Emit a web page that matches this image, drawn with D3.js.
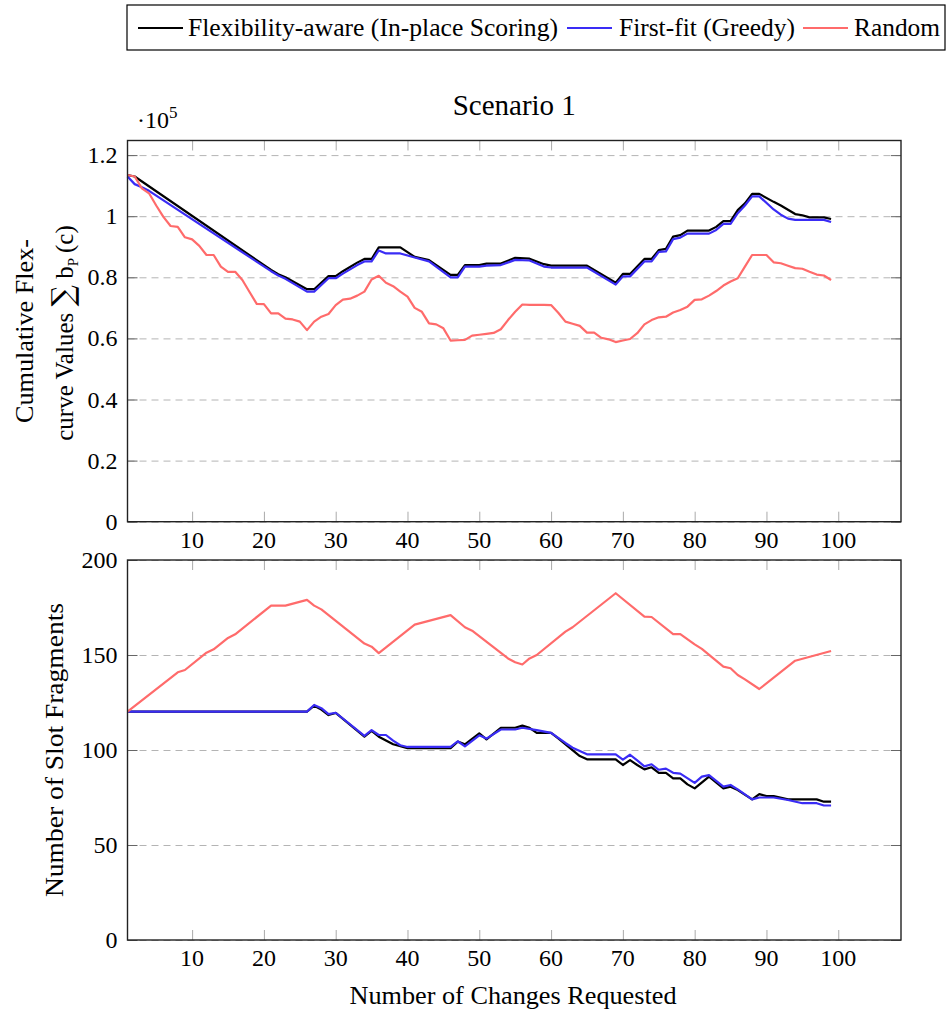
<!DOCTYPE html>
<html>
<head>
<meta charset="utf-8">
<script src="https://cdn.jsdelivr.net/npm/d3@7"></script>
<style>
  body { margin: 0; background: #fff; }
  svg text { font-family: "Liberation Serif", serif; fill: #000; }
</style>
</head>
<body>
<svg id="chart" width="947" height="1014"></svg>
<script>
// ticks
var xTicks = [10, 20, 30, 40, 50, 60, 70, 80, 90, 100];
var topTicks = [0, 0.2, 0.4, 0.6, 0.8, 1, 1.2];
var bottomTicks = [0, 50, 100, 150, 200];

// series names
var seriesNames = ['Flexibility-aware (In-place Scoring)', 'First-fit (Greedy)', 'Random'];

// top plot: cumulative flex-curve values (x 1e5), [change, value]
var flexTop = [[1,1.135],[2,1.13],[21,0.824],[22,0.81],[23,0.80],[26,0.761],[27,0.761],[29,0.804],[30,0.804],
	[31,0.82],[33,0.848],[34,0.86],[35,0.86],[36,0.898],[39,0.898],[41,0.867],[43,0.856],[46,0.808],[47,0.808],
	[48,0.84],[50,0.84],[51,0.845],[53,0.845],[55,0.864],[57,0.861],[59,0.843],[60,0.838],[65,0.838],[69,0.782],
	[70,0.811],[71,0.811],[73,0.86],[74,0.86],[75,0.889],[76,0.893],[77,0.933],[78,0.938],[79,0.953],[82,0.953],
	[83,0.965],[84,0.984],[85,0.984],[86,1.02],[87,1.042],[88,1.073],[89,1.073],[91,1.047],[92,1.035],[94,1.007],
	[95,1.003],[96,0.996],[98,0.996],[99,0.991]];
var firstFitTop = [[1,1.13],[2,1.105],[3,1.095],[4,1.083],[21,0.82],[22,0.806],[23,0.795],[26,0.753],[27,0.753],
	[29,0.797],[30,0.797],[31,0.812],[33,0.84],[34,0.852],[35,0.852],[36,0.888],[37,0.878],[39,0.878],[41,0.865],
	[43,0.852],[46,0.80],[47,0.80],[48,0.835],[50,0.835],[51,0.838],[53,0.84],[55,0.857],[57,0.855],[59,0.835],
	[60,0.832],[65,0.832],[69,0.776],[70,0.803],[71,0.803],[73,0.852],[74,0.852],[75,0.883],[76,0.885],[77,0.925],
	[78,0.93],[79,0.943],[82,0.943],[83,0.955],[84,0.975],[85,0.975],[86,1.01],[87,1.035],[88,1.065],[89,1.065],
	[91,1.022],[92,1.005],[93,0.992],[94,0.988],[98,0.988],[99,0.981]];
var randomTop = [[1,1.135],[2,1.13],[3,1.091],[4,1.075],[5,1.035],[6,0.998],[7,0.968],[8,0.965],[9,0.931],[10,0.924],
	[11,0.903],[12,0.873],[13,0.873],[14,0.835],[15,0.818],[16,0.818],[17,0.791],[18,0.752],[19,0.713],[20,0.712],
	[21,0.682],[22,0.682],[23,0.665],[24,0.662],[25,0.655],[26,0.627],[27,0.655],[28,0.671],[29,0.68],[30,0.709],
	[31,0.727],[32,0.73],[33,0.74],[34,0.753],[35,0.793],[36,0.805],[37,0.782],[38,0.771],[39,0.753],[40,0.737],
	[41,0.70],[42,0.687],[43,0.649],[44,0.646],[45,0.633],[46,0.593],[47,0.594],[48,0.595],[49,0.609],[50,0.612],
	[51,0.615],[52,0.618],[53,0.63],[54,0.66],[55,0.687],[56,0.711],[57,0.71],[58,0.71],[59,0.71],[60,0.709],
	[61,0.684],[62,0.655],[63,0.648],[64,0.641],[65,0.619],[66,0.619],[67,0.602],[68,0.597],[69,0.588],[70,0.593],
	[71,0.598],[72,0.617],[73,0.646],[74,0.66],[75,0.669],[76,0.671],[77,0.685],[78,0.693],[79,0.704],[80,0.726],
	[81,0.728],[82,0.74],[83,0.755],[84,0.773],[85,0.786],[86,0.797],[87,0.835],[88,0.873],[89,0.873],[90,0.873],
	[91,0.849],[92,0.846],[93,0.838],[94,0.83],[95,0.828],[96,0.818],[97,0.809],[98,0.806],[99,0.791]];

// bottom plot: number of slot fragments, [change, value]
var flexBottom = [[1,120.2],[26,120.2],[27,123.3],[28,121.3],[29,118.4],[30,119.5],[34,107],[35,110],[36,107],
	[38,103],[40,101],[46,101],[47,104.4],[48,103],[50,108.8],[51,105.6],[53,111.7],[55,111.7],[56,112.8],[57,111.7],
	[58,109],[60,109],[61,106.1],[64,96.8],[65,95.1],[69,95.1],[70,92.1],[71,94.7],[72,92.1],[73,89.8],[74,90.9],
	[75,88],[76,88],[77,85.1],[78,85.1],[79,81.9],[80,79.8],[82,86],[84,79.8],[85,80.7],[86,78.9],[88,74],[89,76.8],
	[90,75.8],[91,75.8],[93,74],[97,74],[98,72.8],[99,72.8]];
var firstFitBottom = [[1,120.2],[26,120.2],[27,123.7],[28,122],[29,118.9],[30,119.6],[34,107.4],[35,110.5],[36,107.9],
	[37,107.9],[38,104.9],[39,102.5],[40,101.6],[46,101.6],[47,104.6],[48,101.9],[50,107.7],[51,106],[53,110.8],
	[55,110.8],[56,111.7],[58,110.5],[60,109],[62,103.7],[63,101.2],[65,97.7],[69,97.7],[70,94.9],[71,97.5],[72,94.5],
	[73,91.4],[74,92.5],[75,89.6],[76,90.2],[77,88],[78,87.6],[80,82.7],[81,86],[82,86.8],[84,80.7],[85,81.6],
	[86,79.3],[88,74],[89,75],[91,75],[93,73.7],[95,72],[97,72],[98,70.8],[99,70.8]];
var randomBottom = [[1,120.2],[8,140.9],[9,142.1],[12,151.2],[13,153],[15,159],[16,160.9],[21,176],[23,176],[26,179],
	[27,176],[28,174],[34,156],[35,154.4],[36,151],[41,166],[46,171],[48,164.6],[49,162.8],[54,148.2],[55,146.2],
	[56,145],[57,148.2],[58,150],[62,162.3],[63,164.6],[69,182.5],[73,170.2],[74,170],[77,161],[78,161],[80,155.6],
	[81,153.2],[84,143.9],[85,143],[86,139.5],[87,137.2],[89,132.1],[94,147],[99,152.1]];

var colors = ['#000000', '#3a2cf5', '#ff6b6b'];

window.onload = function() {

	var svg = d3.select('#chart');

	// horizontal layout shared by both plots
	var left = 127.5, right = 901;
	var x = d3.scaleLinear().domain([1, 108.74]).range([left, right]);

	// ---- legend ----
	var legend = svg.append('g');
	legend.append('rect')
		.attr('x', 127).attr('y', 5)
		.attr('width', 818).attr('height', 45)
		.attr('fill', 'none').attr('stroke', '#000').attr('stroke-width', 1.2);
	var legendPos = [
		{line: 138, text: 188, len: 370},
		{line: 567, text: 619, len: 176},
		{line: 803, text: 854, len: 86}
	];
	legendPos.forEach(function(p, i) {
		legend.append('line')
			.attr('x1', p.line).attr('x2', p.line + 45)
			.attr('y1', 28).attr('y2', 28)
			.attr('stroke', colors[i]).attr('stroke-width', 2);
		legend.append('text')
			.attr('x', p.text).attr('y', 36)
			.attr('font-size', 25)
			.attr('textLength', p.len).attr('lengthAdjust', 'spacingAndGlyphs')
			.text(seriesNames[i]);
	});

	// title
	svg.append('text')
		.attr('x', (left + right) / 2).attr('y', 115)
		.attr('text-anchor', 'middle')
		.attr('font-size', 29)
		.text('Scenario 1');

	// draws one plot panel
	function drawPanel(y, ticks, fmt, series, top, bottom) {
		var g = svg.append('g');

		// dashed grid
		g.append('g')
			.attr('transform', 'translate(' + left + ',0)')
			.call(d3.axisLeft(y).tickValues(ticks).tickSize(-(right - left)).tickFormat(''))
			.call(function(a) {
				a.select('.domain').remove();
				a.selectAll('line').attr('stroke', '#b4b4b4').attr('stroke-dasharray', '7,5');
			});

		// y tick marks, inside on both sides
		[left, right].forEach(function(xx, k) {
			var ax = k == 0 ? d3.axisRight(y) : d3.axisLeft(y);
			g.append('g')
				.attr('transform', 'translate(' + xx + ',0)')
				.call(ax.tickValues(ticks).tickSize(10).tickFormat(''))
				.call(function(a) {
					a.select('.domain').remove();
					a.selectAll('line').attr('stroke', '#666');
				});
		});

		// x tick marks, inside on top and bottom
		g.append('g')
			.attr('transform', 'translate(0,' + bottom + ')')
			.call(d3.axisTop(x).tickValues(xTicks).tickSize(10).tickFormat(''))
			.call(function(a) {
				a.select('.domain').remove();
				a.selectAll('line').attr('stroke', '#aaa');
			});
		g.append('g')
			.attr('transform', 'translate(0,' + top + ')')
			.call(d3.axisBottom(x).tickValues(xTicks).tickSize(10).tickFormat(''))
			.call(function(a) {
				a.select('.domain').remove();
				a.selectAll('line').attr('stroke', '#aaa');
			});

		// y tick labels
		g.selectAll('.ylab')
			.data(ticks)
		.enter().append('text')
			.attr('x', left - 10)
			.attr('y', function(d) { return y(d) + 8; })
			.attr('text-anchor', 'end')
			.attr('font-size', 24)
			.text(fmt);

		// x tick labels
		g.selectAll('.xlab')
			.data(xTicks)
		.enter().append('text')
			.attr('x', function(d) { return x(d); })
			.attr('y', bottom + 26)
			.attr('text-anchor', 'middle')
			.attr('font-size', 24)
			.text(function(d) { return d; });

		// the lines
		var line = d3.line()
			.x(function(d) { return x(d[0]); })
			.y(function(d) { return y(d[1]); });
		series.forEach(function(s, i) {
			g.append('path')
				.datum(s)
				.attr('d', line)
				.attr('fill', 'none')
				.attr('stroke', colors[i])
				.attr('stroke-width', 2.2)
				.attr('stroke-linejoin', 'round');
		});

		// frame
		g.append('rect')
			.attr('x', left).attr('y', top)
			.attr('width', right - left).attr('height', bottom - top)
			.attr('fill', 'none').attr('stroke', '#222').attr('stroke-width', 1.4);
	}

	// top plot
	var yTop = d3.scaleLinear().domain([0, 1.2478]).range([521.7, 140.5]);
	drawPanel(yTop, topTicks, function(d) { return d == 0 || d == 1 ? d : d.toFixed(1); },
		[flexTop, firstFitTop, randomTop], 140.5, 521.7);

	// bottom plot
	var yBottom = d3.scaleLinear().domain([0, 200]).range([940, 560]);
	drawPanel(yBottom, bottomTicks, function(d) { return d; },
		[flexBottom, firstFitBottom, randomBottom], 560, 940);

	// scale factor label
	var sf = svg.append('text').attr('x', 137).attr('y', 128).attr('font-size', 24);
	sf.append('tspan').text('\u00b710');
	sf.append('tspan').attr('dy', -10).attr('font-size', 17).text('5');

	// y axis labels
	var lab1 = svg.append('g').attr('transform', 'translate(33,331) rotate(-90)');
	lab1.append('text')
		.attr('text-anchor', 'middle').attr('font-size', 25)
		.attr('textLength', 184).attr('lengthAdjust', 'spacingAndGlyphs')
		.text('Cumulative Flex-');
	var lab2 = svg.append('g').attr('transform', 'translate(73,333) rotate(-90)')
		.append('text').attr('text-anchor', 'middle').attr('font-size', 25);
	lab2.append('tspan').text('curve Values ');
	lab2.append('tspan').attr('font-family', 'DejaVu Serif').attr('font-size', 30).text('\u2211');
	lab2.append('tspan').text(' b');
	lab2.append('tspan').attr('font-size', 15).attr('dy', 5).text('P');
	lab2.append('tspan').attr('dy', -5).text('\u2009(c)');

	svg.append('g').attr('transform', 'translate(63,750) rotate(-90)')
		.append('text')
		.attr('text-anchor', 'middle').attr('font-size', 25)
		.attr('textLength', 294).attr('lengthAdjust', 'spacingAndGlyphs')
		.text('Number of Slot Fragments');

	// x axis label
	svg.append('text')
		.attr('x', 513).attr('y', 1004)
		.attr('text-anchor', 'middle').attr('font-size', 25)
		.attr('textLength', 327).attr('lengthAdjust', 'spacingAndGlyphs')
		.text('Number of Changes Requested');
};
</script>
</body>
</html>
